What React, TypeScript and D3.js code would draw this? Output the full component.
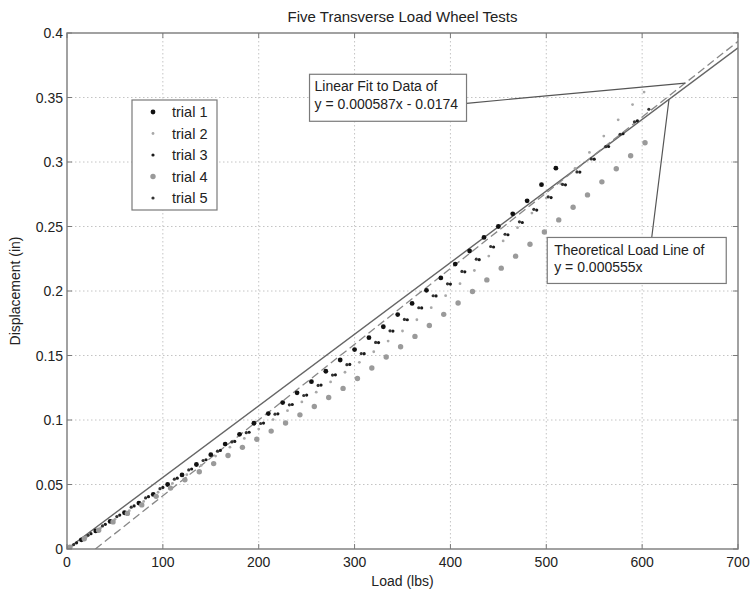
import React from "react";
import * as d3 from "d3";

// Load (lbs) and displacement (in) readings for each trial
const loads1 = [0, 15, 30, 45, 60, 75, 90, 105, 120, 135, 150, 165, 180, 195, 210, 225, 240, 255, 270, 285, 300, 315, 330, 345, 360, 375, 390, 405, 420, 435, 450, 465, 480, 495, 510];
const disp1 = [0, 0.0071, 0.014, 0.0214, 0.0281, 0.0356, 0.0423, 0.05, 0.0574, 0.0655, 0.0731, 0.0813, 0.0889, 0.0975, 0.105, 0.1135, 0.1211, 0.1297, 0.1378, 0.1465, 0.1546, 0.1638, 0.1723, 0.1817, 0.1904, 0.2005, 0.2101, 0.2209, 0.231, 0.2415, 0.25, 0.2598, 0.2699, 0.2824, 0.2952];

const loads2 = [5, 20, 35, 50, 65, 80, 95, 110, 125, 140, 155, 170, 185, 200, 215, 230, 245, 260, 275, 290, 305, 320, 335, 350, 365, 380, 395, 410, 425, 440, 455, 470, 485, 500, 515, 530, 545, 560, 575, 590, 602];
const disp2 = [0.0023, 0.0092, 0.0163, 0.023, 0.0297, 0.0369, 0.044, 0.0508, 0.0576, 0.0648, 0.072, 0.0789, 0.0857, 0.093, 0.1003, 0.1072, 0.114, 0.1216, 0.1295, 0.137, 0.1447, 0.1529, 0.1612, 0.169, 0.1777, 0.1871, 0.1964, 0.2057, 0.2159, 0.2271, 0.2388, 0.2491, 0.2604, 0.272, 0.2832, 0.295, 0.3074, 0.3201, 0.3327, 0.3445, 0.3542];

const loads3 = [10, 25, 40, 55, 70, 85, 100, 115, 130, 145, 160, 175, 190, 205, 220, 235, 250, 265, 280, 295, 310, 325, 340, 355, 370, 385, 400, 415, 430, 445, 460, 475, 490, 505, 520, 535, 550, 565, 580, 595];
const disp3 = [0.0048, 0.0119, 0.0191, 0.0263, 0.0334, 0.0406, 0.0477, 0.0549, 0.062, 0.0692, 0.0764, 0.0834, 0.0905, 0.0976, 0.1048, 0.112, 0.1193, 0.1271, 0.135, 0.1431, 0.1514, 0.16, 0.1689, 0.1777, 0.1869, 0.1962, 0.2054, 0.2149, 0.2243, 0.2341, 0.2436, 0.2531, 0.2627, 0.2724, 0.2823, 0.2922, 0.3022, 0.312, 0.3219, 0.3319];

const loads4 = [3, 18, 33, 48, 63, 78, 93, 108, 123, 138, 153, 168, 183, 198, 213, 228, 243, 258, 273, 288, 303, 318, 333, 348, 363, 378, 393, 408, 423, 438, 453, 468, 483, 498, 513, 528, 543, 558, 573, 588, 603];
const disp4 = [0.0013, 0.0079, 0.0145, 0.021, 0.0276, 0.0342, 0.0408, 0.0472, 0.0536, 0.0599, 0.0662, 0.0725, 0.0788, 0.0851, 0.0914, 0.0977, 0.104, 0.1105, 0.1174, 0.1245, 0.1322, 0.1403, 0.1488, 0.1568, 0.1648, 0.1733, 0.1819, 0.1907, 0.1996, 0.2086, 0.2177, 0.227, 0.2362, 0.2457, 0.2551, 0.2649, 0.2745, 0.2846, 0.2948, 0.3048, 0.3149];

const loads5 = [7, 22, 37, 52, 67, 82, 97, 112, 127, 142, 157, 172, 187, 202, 217, 232, 247, 262, 277, 292, 307, 322, 337, 352, 367, 382, 397, 412, 427, 442, 457, 472, 487, 502, 517, 532, 547, 562, 577, 592, 607];
const disp5 = [0.0034, 0.0106, 0.0179, 0.0251, 0.0324, 0.0396, 0.0468, 0.0541, 0.0613, 0.0686, 0.0758, 0.083, 0.0902, 0.0973, 0.1045, 0.1118, 0.119, 0.1268, 0.1348, 0.1429, 0.1515, 0.1601, 0.1691, 0.178, 0.187, 0.1963, 0.2056, 0.2152, 0.2247, 0.2345, 0.244, 0.2536, 0.2633, 0.273, 0.2826, 0.2923, 0.3024, 0.3119, 0.3215, 0.3312, 0.3409];

const trialNames = ["trial 1", "trial 2", "trial 3", "trial 4", "trial 5"];
const xTicks = [0, 100, 200, 300, 400, 500, 600, 700];
const yTicks = [0, 0.05, 0.1, 0.15, 0.2, 0.25, 0.3, 0.35, 0.4];

// Fitted and theoretical lines: y = slope * x + intercept
const fitSlope = 0.000587;
const fitIntercept = -0.0174;
const theorySlope = 0.000555;

const fitText = ["Linear Fit to Data of", "y = 0.000587x - 0.0174"];
const theoryText = ["Theoretical Load Line of", "y = 0.000555x"];

const W = 753;
const H = 592;
const margin = { left: 67, right: 15, top: 33, bottom: 43 };
const FONT = "'Liberation Sans', Arial, Helvetica, sans-serif";

const markerStyles = [
  { r: 2.4, fill: "#111" },
  { r: 1.4, fill: "#a8a8a8" },
  { r: 1.6, fill: "#1a1a1a" },
  { r: 2.7, fill: "#9a9a9a" },
  { r: 1.6, fill: "#333" },
];

export default function App() {
  const x = d3.scaleLinear().domain([0, 700]).range([margin.left, W - margin.right]);
  const y = d3.scaleLinear().domain([0, 0.4]).range([H - margin.bottom, margin.top]);

  const trials = [
    d3.zip(loads1, disp1),
    d3.zip(loads2, disp2),
    d3.zip(loads3, disp3),
    d3.zip(loads4, disp4),
    d3.zip(loads5, disp5),
  ];

  const x0 = x.range()[0], x1 = x.range()[1];
  const yTop = y.range()[1], yBot = y.range()[0];

  const fitStart = -fitIntercept / fitSlope;
  const fitPts: [number, number][] = [fitStart, 700].map((v) => [x(v), y(fitSlope * v + fitIntercept)]);
  const theoryPts: [number, number][] = [0, 700].map((v) => [x(v), y(theorySlope * v)]);
  const path2 = d3.line();

  // annotation anchors (data coordinates)
  const fitBox = { x: x(253), y: y(0.368), w: 157, h: 47 };
  const theoryBox = { x: x(501), y: y(0.2415), w: 179, h: 46 };
  const fitArrowEnd = 645;
  const theoryArrowEnd = 628;

  return (
    <svg
      width={W}
      height={H}
      style={{ position: "absolute", left: 0, top: 0, background: "#fff" }}
      fontFamily={FONT}
    >
      <defs>
        <clipPath id="plotClip">
          <rect x={x0} y={yTop} width={x1 - x0} height={yBot - yTop} />
        </clipPath>
      </defs>
      <rect x={0} y={0} width={W} height={H} fill="#fff" />

      {/* grid */}
      {xTicks.slice(1, -1).map((t) => (
        <line key={"gx" + t} x1={x(t)} x2={x(t)} y1={yTop} y2={yBot} stroke="#c4c4c4" strokeWidth={1} strokeDasharray="1.5,2.5" />
      ))}
      {yTicks.slice(1, -1).map((t) => (
        <line key={"gy" + t} x1={x0} x2={x1} y1={y(t)} y2={y(t)} stroke="#c4c4c4" strokeWidth={1} strokeDasharray="1.5,2.5" />
      ))}

      {/* theory and fit lines */}
      <g clipPath="url(#plotClip)">
        <path d={path2(theoryPts) || ""} stroke="#666" strokeWidth={1.4} fill="none" />
        <path d={path2(fitPts) || ""} stroke="#888" strokeWidth={1.3} fill="none" strokeDasharray="8,4" />
      </g>

      {/* data */}
      <g clipPath="url(#plotClip)">
        {trials.map((pts, i) =>
          pts.map((p, j) => (
            <circle key={i + "-" + j} cx={x(p[0])} cy={y(p[1])} r={markerStyles[i].r} fill={markerStyles[i].fill} />
          ))
        )}
      </g>

      {/* axes box */}
      <rect x={x0} y={yTop} width={x1 - x0} height={yBot - yTop} fill="none" stroke="#7a7a7a" strokeWidth={1.4} />
      {xTicks.map((t) => (
        <g key={"tx" + t}>
          <line x1={x(t)} x2={x(t)} y1={yBot} y2={yBot - 5} stroke="#7a7a7a" />
          <line x1={x(t)} x2={x(t)} y1={yTop} y2={yTop + 5} stroke="#7a7a7a" />
          <text x={x(t)} y={yBot + 18} fontSize={14} textAnchor="middle" fill="#222">
            {t}
          </text>
        </g>
      ))}
      {yTicks.map((t) => (
        <g key={"ty" + t}>
          <line x1={x0} x2={x0 + 5} y1={y(t)} y2={y(t)} stroke="#7a7a7a" />
          <line x1={x1} x2={x1 - 5} y1={y(t)} y2={y(t)} stroke="#7a7a7a" />
          <text x={x0 - 4} y={y(t) + 5} fontSize={14} textAnchor="end" fill="#222">
            {d3.format("")(+t.toFixed(2))}
          </text>
        </g>
      ))}

      {/* titles */}
      <text x={(x0 + x1) / 2} y={22} fontSize={15} textAnchor="middle" fill="#222">
        Five Transverse Load Wheel Tests
      </text>
      <text x={(x0 + x1) / 2} y={H - 6} fontSize={14} textAnchor="middle" fill="#222">
        Load (lbs)
      </text>
      <text transform={`translate(20,${(yTop + yBot) / 2}) rotate(-90)`} fontSize={14} textAnchor="middle" fill="#222">
        Displacement (in)
      </text>

      {/* legend */}
      <g>
        <rect x={132} y={100} width={85} height={110} fill="#fff" stroke="#7a7a7a" strokeWidth={1.2} />
        {trialNames.map((n, i) => (
          <g key={n}>
            <circle cx={153} cy={112 + i * 21.5} r={markerStyles[i].r} fill={markerStyles[i].fill} />
            <text x={172} y={117 + i * 21.5} fontSize={14.5} fill="#222">
              {n}
            </text>
          </g>
        ))}
      </g>

      {/* annotations */}
      <line
        x1={fitBox.x + fitBox.w}
        y1={fitBox.y + 29}
        x2={x(fitArrowEnd)}
        y2={y(fitSlope * fitArrowEnd + fitIntercept)}
        stroke="#555"
        strokeWidth={1.2}
      />
      <rect x={fitBox.x} y={fitBox.y} width={fitBox.w} height={fitBox.h} fill="#fff" stroke="#7a7a7a" strokeWidth={1.2} />
      {fitText.map((s, i) => (
        <text key={s} x={fitBox.x + 5} y={fitBox.y + 17 + i * 18} fontSize={14} fill="#222">
          {s}
        </text>
      ))}

      <line
        x1={x(610)}
        y1={theoryBox.y}
        x2={x(theoryArrowEnd)}
        y2={y(theorySlope * theoryArrowEnd)}
        stroke="#555"
        strokeWidth={1.2}
      />
      <rect x={theoryBox.x} y={theoryBox.y} width={theoryBox.w} height={theoryBox.h} fill="#fff" stroke="#7a7a7a" strokeWidth={1.2} />
      {theoryText.map((s, i) => (
        <text key={s} x={theoryBox.x + 7} y={theoryBox.y + 18 + i * 17} fontSize={14} fill="#222">
          {s}
        </text>
      ))}
    </svg>
  );
}
